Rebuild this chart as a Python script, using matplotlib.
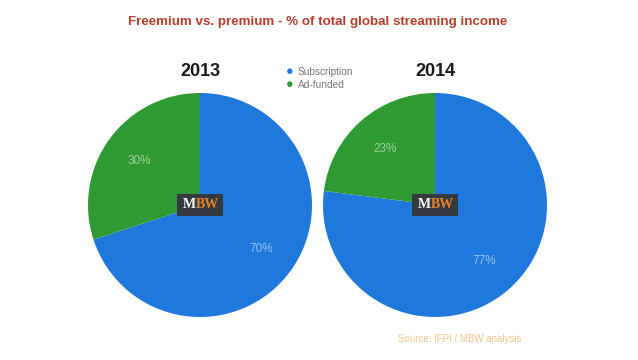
import matplotlib
matplotlib.use("Agg")
import matplotlib.pyplot as plt

plt.rcParams['font.family'] = ['Liberation Sans', 'DejaVu Sans']

years = ['2013', '2014']
categories = ['Subscription', 'Ad-funded']
shares = {'2013': [70, 30], '2014': [77, 23]}
colors = ['#1f78dc', '#2f9a34']

W, H = 638, 360
fig = plt.figure(figsize=(W / 100, H / 100), dpi=100)
fig.patch.set_facecolor('white')


def px_axes(x0, y0, w, h):
    return fig.add_axes([x0 / W, 1 - (y0 + h) / H, w / W, h / H])


fig.text(318 / W, 1 - 22 / H, 'Freemium vs. premium - % of total global streaming income',
         ha='center', va='center', fontsize=9.6, fontweight='bold', color='#b83c2c')

centers = [200, 435]
for year, cx in zip(years, centers):
    ax = px_axes(cx - 112, 205 - 112, 224, 224)
    wedges, texts, autotexts = ax.pie(
        shares[year], colors=colors, startangle=90, counterclock=False,
        autopct='%d%%', pctdistance=0.67, radius=1.0,
        wedgeprops=dict(linewidth=0),
        textprops=dict(color='white', alpha=0.55, fontsize=8.5))
    ax.set_xlim(-1, 1)
    ax.set_ylim(-1, 1)
    ax.set_aspect('equal')
    fig.text(cx / W, 1 - 72 / H, year, ha='center', va='center',
             fontsize=13, fontweight='bold', color='#1a1a1a')

    # MBW logo box
    lx, ly = cx, 205
    fig.patches.append(plt.Rectangle(((lx - 23) / W, 1 - (ly + 11) / H), 46 / W, 22 / H,
                                     transform=fig.transFigure, facecolor='#343a40',
                                     edgecolor='none', zorder=5))
    fig.text((lx - 4) / W, 1 - ly / H, 'M', ha='right', va='center', fontsize=10,
             fontweight='bold', family='Liberation Serif', color='white', zorder=6)
    fig.text((lx - 4) / W, 1 - ly / H, 'BW', ha='left', va='center', fontsize=10,
             fontweight='bold', family='Liberation Serif', color='#e8822a', zorder=6)

# legend
leg_y = [72, 85]
for cat, col, y in zip(categories, colors, leg_y):
    fig.text(290 / W, 1 - y / H, '\u25cf', ha='center', va='center', fontsize=9, color=col)
    fig.text(298 / W, 1 - y / H, cat, ha='left', va='center', fontsize=7.3, color='#777777')

fig.text(398 / W, 1 - 339 / H, 'Source: IFPI / MBW analysis', ha='left', va='center',
         fontsize=7, color='#f0c68a')

fig.savefig('out.png', dpi=100, facecolor='white')
